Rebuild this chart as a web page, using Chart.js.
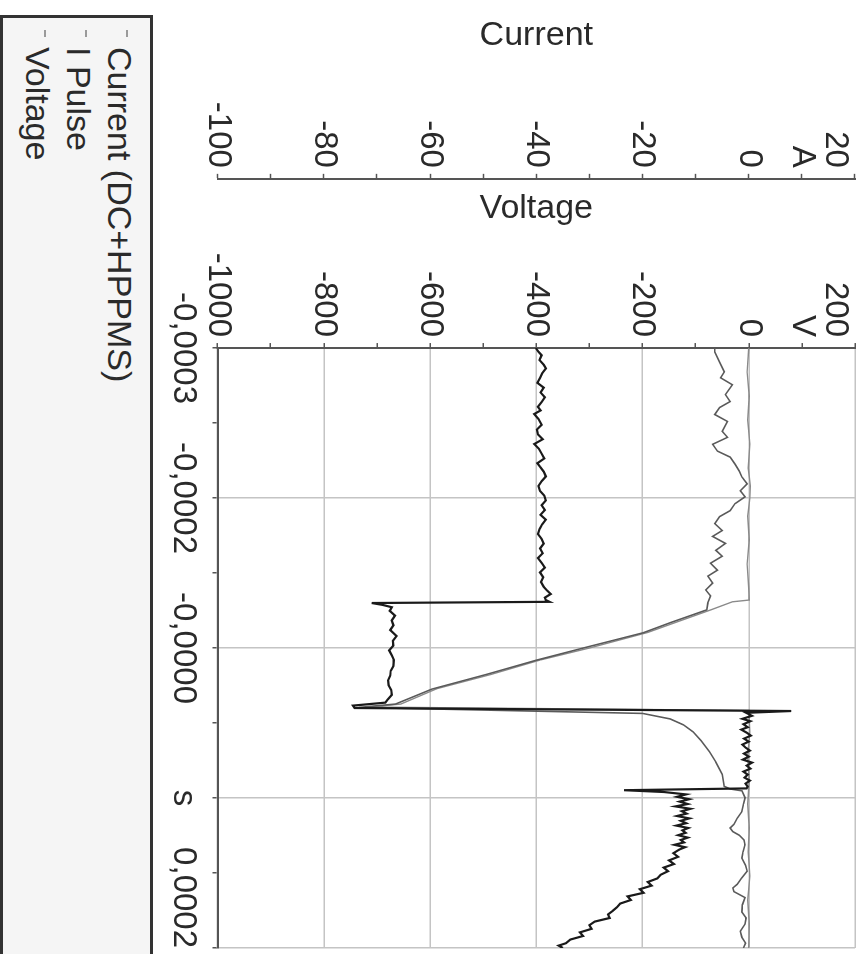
<!DOCTYPE html>
<html>
<head>
<meta charset="utf-8">
<script src="https://cdn.jsdelivr.net/npm/chart.js@4.4.1/dist/chart.umd.min.js"></script>
<style>
  html, body { margin: 0; padding: 0; background: #fff; overflow: hidden; }
  /* the whole plot is laid out normally and then turned a quarter turn clockwise */
  #sheet {
    position: absolute; left: 0; top: 0;
    width: 954px; height: 866px;
    overflow: hidden; background: #fff;
    transform-origin: 0 0;
    transform: translate(866px, 0) rotate(90deg);
  }
  #chart { position: absolute; left: 0; top: 0; }
  #legend {
    position: absolute; left: 15px; top: 713px;
    width: 960px; height: 153px; box-sizing: border-box;
    border: 3px solid #333; background: #f5f5f5;
    padding-top: 10px;
    font: 34px "Liberation Sans", Arial, sans-serif; color: #2a2a2a;
  }
  .item { display: flex; align-items: center; height: 41px; white-space: nowrap; }
  .mark { display: inline-block; width: 7px; height: 2px; margin-left: 12px; margin-right: 10px; position: relative; top: -8px; }
</style>
</head>
<body>
<div id="sheet">
  <canvas id="chart" width="954" height="713"></canvas>
  <div id="legend"></div>
</div>
<script>
// time in microseconds, voltage in V, currents in A
const timeTickLabels = ['-0,0003', '', '-0,0002', '', '-0,0000', '', 's', '', '0,0002'];
const voltageTickLabels = ['-1000', '', '-800', '', '-600', '', '-400', '', '-200', '', '0', 'V', '200'];
const currentTickLabels = ['-100', '', '-80', '', '-60', '', '-40', '', '-20', '', '0', 'A', '20'];

const voltageTime = [
  -300, -297, -294, -290, -286, -283, -279, -275, -271, -267,
  -263, -259, -255, -251, -248, -245, -241, -236, -232, -228,
  -224, -220, -216, -212, -208, -204, -201, -197, -193, -189,
  -185, -181, -177, -173, -169, -165, -161, -157, -153, -149,
  -145, -141, -137, -133, -129, -125, -121, -117, -113, -109,
  -105, -101, -98, -95, -92, -90, -88.5, -87.5, -86, -84,
  -81, -77, -73, -69, -65, -60, -56, -52, -48, -44,
  -40, -35, -31, -27, -23, -19, -15, -11, -7, -4.5,
  -2, 0, 2.5, 4, 6.5, 9, 11, 13.5, 16, 18,
  20.5, 23, 25.5, 28, 30.5, 33, 35.5, 38, 40.5, 43,
  45.5, 48, 50.5, 53, 55.5, 58, 60.5, 63, 65.5, 67,
  68.5, 70, 72, 74, 76, 78, 80, 82, 84, 86,
  88, 90, 92, 94, 96, 98, 100, 102, 104, 106,
  108, 110, 112, 114, 116, 118, 121, 124, 127, 130,
  133, 136, 139, 142, 145, 148, 151, 154, 157, 160,
  163, 166, 169, 172, 175, 178, 181, 184, 187, 190,
  193, 196, 198, 200
];
const voltageValues = [
  -401, -396, -390, -394, -386, -382, -389, -393, -398, -386,
  -392, -384, -390, -397, -392, -404, -396, -390, -399, -397,
  -388, -404, -395, -390, -385, -398, -393, -386, -382, -390,
  -396, -393, -385, -382, -390, -384, -392, -382, -389, -394,
  -397, -390, -386, -393, -388, -397, -390, -384, -393, -387,
  -391, -386, -380, -373, -384, -382, -375, -710, -690, -672,
  -676, -666, -672, -669, -675, -663, -670, -669, -677, -672,
  -668, -669, -674, -675, -679, -678, -673, -672, -680, -684,
  -745, -742, 80, -5, 6, -12, 3, -10, -2, -14,
  -4, 4, -9, 0, -12, -6, 2, -9, 0, -11,
  6, -4, 3, -10, -2, -8, 2, -6, -2, -4,
  -235, -160, -118, -135, -112, -130, -115, -138, -110, -126,
  -117, -135, -112, -128, -118, -136, -114, -125, -119, -133,
  -115, -128, -122, -140, -120, -131, -142, -133, -150, -141,
  -160, -152, -166, -172, -190, -183, -205, -198, -228, -222,
  -242, -248, -256, -265, -262, -290, -300, -296, -318, -312,
  -336, -344, -358, -350
];

const currentTime = [
  -300, -296.7, -288.4, -280.2, -275.2, -269.4, -261.2, -255.4, -250.4, -244.6,
  -238.8, -230.6, -225.6, -219.8, -214.1, -209.1, -203.3, -197.5, -192.6, -186.8,
  -181, -176, -170.3, -164.5, -159.5, -153.7, -147.9, -143, -137.2, -131.4,
  -126.5, -120.7, -114.9, -109.9, -104.1, -98.4, -93.4, -87.6, -81.8, -71.1,
  -62.8, -50.4, -39.7, -28.1, -15.7, -3.3, -0.5, 4.5, 9.1, 14,
  19.8, 27, 36.3, 45, 55.3, 65.3, 67.5, 69, 74.8, 80,
  86.4, 92, 97, 100, 103, 106, 110, 114, 120, 125,
  131, 136, 142, 147, 150, 153, 158, 164, 170, 175,
  180, 186, 191, 196, 200
];
const currentValues = [
  -6.4, -6.4, -5.5, -4.6, -5.3, -3.1, -4.4, -3.5, -5.5, -6.4,
  -4.0, -5.0, -4.0, -6.8, -5.9, -3.5, -2.6, -1.8, -1.3, -0.3,
  -1.6, -0.7, -2.6, -3.5, -5.5, -6.4, -5.0, -6.8, -4.4, -6.2,
  -5.0, -7.2, -5.9, -7.7, -6.8, -8.1, -7.2, -7.7, -7.9, -14.8,
  -19.8, -30.8, -40.1, -49.3, -59.7, -66.5, -73.4, -20.0, -14.8, -12.3,
  -10.5, -9.0, -7.4, -6.2, -5.0, -4.6, -3.5, -1.3, -0.7, -1.0,
  -1.3, -2.2, -2.8, -3.5, -3.0, -1.8, -0.9, -0.7, -1.1, -1.3,
  -0.6, -0.3, -1.4, -2.2, -3.0, -2.8, -0.7, -1.2, -1.3, -0.5,
  -0.7, -1.6, -1.3, -0.6, -1.0
];

const pulseTime = [
  -300, -280, -260, -240, -220, -200, -185, -175, -160, -140,
  -120, -100, -90, -88.5, -82, -71, -63, -50, -40, -28,
  -16, -3.3, -0.8, 2, 20, 40, 60, 80, 100, 120,
  140, 160, 180, 200
];
const pulseValues = [
  0.0, -0.3, 0.1, -0.2, 0.2, -0.1, 0.3, 0.2, -0.2, 0.1,
  -0.3, 0.0, 0.1, -3.1, -7.0, -14.0, -19.0, -30.0, -39.3, -48.5,
  -58.8, -65.5, -71.5, 0.0, 0.2, -0.2, 0.1, -0.2, 0.1, -0.1,
  0.2, -0.2, 0.1, 0.0
];

function points(xs, ys) {
  return xs.map((x, i) => ({ x: x, y: ys[i] }));
}

Chart.defaults.font.family = '"Liberation Sans", Arial, sans-serif';
Chart.defaults.color = '#2a2a2a';

const gridGray = '#c4c4c4';
const axisGray = '#555';

// only every second tick gets a grid line, the others are minor ticks
function majorGrid(ctx) {
  return ctx.index % 2 === 0 ? gridGray : 'transparent';
}

const chart = new Chart(document.getElementById('chart'), {
  type: 'line',
  data: {
    datasets: [{
      label: 'Current (DC+HPPMS)',
      data: points(currentTime, currentValues),
      yAxisID: 'current',
      borderColor: '#5a5a5a',
      borderWidth: 1.6,
      order: 1
    }, {
      label: 'I Pulse',
      data: points(pulseTime, pulseValues),
      yAxisID: 'current',
      borderColor: '#8a8a8a',
      borderWidth: 1.4,
      order: 2
    }, {
      label: 'Voltage',
      data: points(voltageTime, voltageValues),
      yAxisID: 'voltage',
      borderColor: '#1a1a1a',
      borderWidth: 2.2,
      order: 0
    }]
  },
  options: {
    responsive: false,
    animation: false,
    layout: { padding: { left: 0, top: 11, right: 6, bottom: 0 } },
    elements: { point: { radius: 0 }, line: { tension: 0 } },
    plugins: { legend: { display: false }, tooltip: { enabled: false } },
    scales: {
      x: {
        type: 'linear',
        min: -300,
        max: 200,
        ticks: {
          stepSize: 62.5,
          autoSkip: false,
          maxRotation: 0,
          minRotation: 0,
          padding: 10,
          font: { size: 33 },
          // last label ends on its tick, the trailing spaces push it left
          callback: (v, i, ticks) => i === ticks.length - 1 ? timeTickLabels[i] + ' '.repeat(11) : timeTickLabels[i]
        },
        grid: { color: majorGrid, lineWidth: 1.5, tickLength: 5, tickColor: axisGray, tickWidth: 1.5 },
        border: { color: axisGray, width: 2 },
        afterFit: s => { s.paddingLeft = 0; s.paddingRight = 0; }
      },
      voltage: {
        type: 'linear',
        position: 'left',
        weight: 1,
        min: -1000,
        max: 200,
        title: { display: true, text: 'Voltage', font: { size: 34 }, padding: { top: 9, bottom: 18 } },
        ticks: {
          stepSize: 100,
          autoSkip: false,
          padding: 6,
          font: { size: 33 },
          callback: (v, i, ticks) => i === ticks.length - 1 ? ['', voltageTickLabels[i]] : voltageTickLabels[i]
        },
        grid: { color: majorGrid, lineWidth: 1.5, tickLength: 5, tickColor: axisGray, tickWidth: 1.5 },
        border: { color: axisGray, width: 2 },
        afterFit: s => { s.paddingTop = 0; s.paddingBottom = 0; }
      },
      current: {
        type: 'linear',
        position: 'left',
        weight: 2,
        min: -100,
        max: 20,
        title: { display: true, text: 'Current', font: { size: 34 }, padding: { top: 15, bottom: 40 } },
        ticks: {
          stepSize: 10,
          autoSkip: false,
          padding: 6,
          font: { size: 33 },
          callback: (v, i, ticks) => i === ticks.length - 1 ? ['', currentTickLabels[i]] : currentTickLabels[i]
        },
        grid: { drawOnChartArea: false, tickLength: 5, tickColor: axisGray, tickWidth: 1.5 },
        border: { color: axisGray, width: 2 },
        afterFit: s => { s.paddingTop = 0; s.paddingBottom = 0; }
      }
    }
  }
});

// legend box below the plot, one entry per line
const legendEl = document.getElementById('legend');
chart.data.datasets.forEach(ds => {
  const row = document.createElement('div');
  row.className = 'item';
  const mark = document.createElement('span');
  mark.className = 'mark';
  mark.style.background = '#9a9a9a';
  const txt = document.createElement('span');
  txt.textContent = ds.label;
  row.append(mark, txt);
  legendEl.appendChild(row);
});
</script>
</body>
</html>
